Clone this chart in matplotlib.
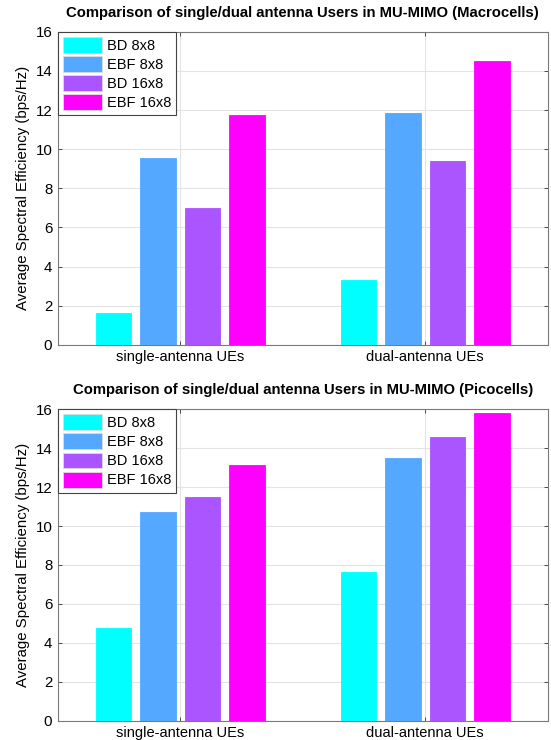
import matplotlib
matplotlib.use("Agg")
import matplotlib.pyplot as plt
import numpy as np

plt.rcParams['font.family'] = ['Liberation Sans', 'DejaVu Sans']

categories = ["single-antenna UEs", "dual-antenna UEs"]
series = ["BD 8x8", "EBF 8x8", "BD 16x8", "EBF 16x8"]
colors = ["#00FFFF", "#55A8FF", "#AA55FF", "#FF00FF"]

macro_bd8 = [1.62, 3.30]
macro_ebf8 = [9.53, 11.87]
macro_bd16 = [7.00, 9.38]
macro_ebf16 = [11.77, 14.50]

pico_bd8 = [4.77, 7.63]
pico_ebf8 = [10.72, 13.50]
pico_bd16 = [11.50, 14.55]
pico_ebf16 = [13.13, 15.80]

titles = ["Comparison of single/dual antenna Users in MU-MIMO (Macrocells)",
          "Comparison of single/dual antenna Users in MU-MIMO (Picocells)"]
yticks = [0, 2, 4, 6, 8, 10, 12, 14, 16]
ylabel = "Average Spectral Efficiency (bps/Hz)"

fig = plt.figure(figsize=(5.51, 7.40), dpi=100)
ax1 = fig.add_axes([0.105, 0.534, 0.889, 0.423])
ax2 = fig.add_axes([0.105, 0.026, 0.889, 0.421])

datasets = [[macro_bd8, macro_ebf8, macro_bd16, macro_ebf16],
            [pico_bd8, pico_ebf8, pico_bd16, pico_ebf16]]

x = np.arange(1, len(categories) + 1)
n = len(series)
groupwidth = min(0.8, n / (n + 1.5))
spacing = groupwidth / n
width = spacing * 0.8

for ax, data, title in zip([ax1, ax2], datasets, titles):
    for i, (vals, c, name) in enumerate(zip(data, colors, series)):
        offs = (i - (n - 1) / 2) * spacing
        ax.bar(x + offs, vals, width, color=c, edgecolor=c, linewidth=0.6,
               label=name, zorder=3)
    ax.set_xlim(0.5, 2.5)
    ax.set_ylim(0, 16)
    ax.set_yticks(yticks)
    ax.set_xticks(x)
    ax.set_xticklabels(categories, fontsize=10.5)
    ax.tick_params(axis='y', labelsize=10.8)
    ax.tick_params(direction='in', length=3, width=0.6, top=True, right=True,
                   color='#333333', pad=4)
    ax.grid(True, color='#E3E3E3', linewidth=0.8, zorder=0)
    ax.set_axisbelow(True)
    for s in ax.spines.values():
        s.set_color('#7A7A7A')
        s.set_linewidth(0.8)
    ax.set_title(title, fontsize=10.7, fontweight='bold', pad=11)
    ax.set_ylabel(ylabel, fontsize=10.8, labelpad=4)
    leg = ax.legend(loc='upper left', bbox_to_anchor=(0, 1), borderaxespad=0,
                    fontsize=10.5, handlelength=2.7, handleheight=1.3,
                    handletextpad=0.3, labelspacing=0.22, borderpad=0.35,
                    fancybox=False, framealpha=1)
    leg.get_frame().set_edgecolor('#444444')
    leg.get_frame().set_linewidth(0.8)
    for h in leg.legend_handles:
        h.set_edgecolor('#DDDDDD')

fig.savefig("out.png", dpi=100)
